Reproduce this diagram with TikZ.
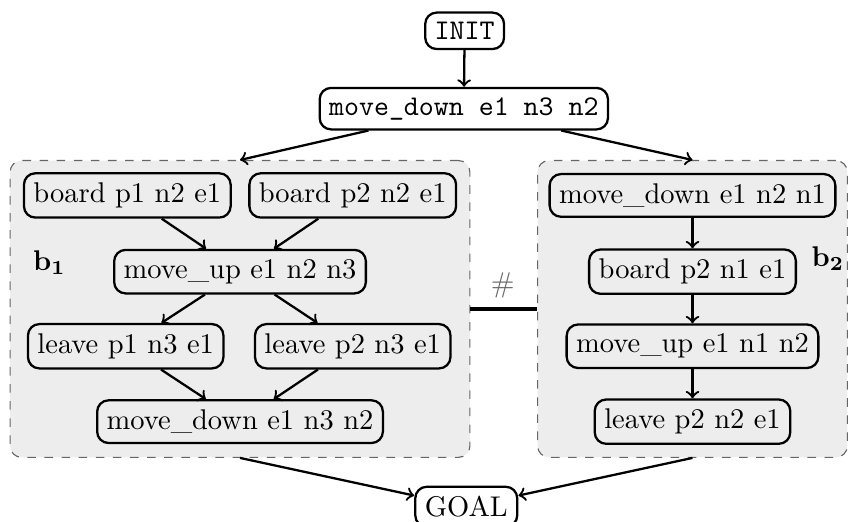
\documentclass[tikz,border=0pt]{standalone}
\definecolor{blockfill}{gray}{0.93}
\definecolor{blockline}{gray}{0.4}
\tikzstyle{action}=[draw, rectangle, rounded corners, thick]
\tikzstyle{block}=[draw=blockline, dashed, thin, rectangle, rounded corners, fill=blockfill]
\tikzstyle{flow}=[->, thick]

\begin{document}
\begin{tikzpicture}[auto, thick]
  \useasboundingbox (0,0) rectangle (10.47,6.43);

  \node[block, minimum width=5.67cm, minimum height=3.66cm] (B1) at (2.96,2.62) {};
  \node[block, minimum width=3.82cm, minimum height=3.66cm] (B2) at (8.54,2.62) {};

  \node[action] (I) at (5.73,6.05) {\ttfamily INIT};
  \node[action] (M0) at (5.72,5.09) {\ttfamily move\_down e1 n3 n2};
  \path[flow] (I) edge (M0);
  \path[flow] (M0) edge (B1.north);
  \path[flow] (M0) edge (B2.north);

  \node[action] (BP1) at (1.57,4.02) {board p1 n2 e1};
  \node[action] (BP2) at (4.35,4.02) {board p2 n2 e1};
  \node[action] (MU1) at (2.96,3.08) {move\_up e1 n2 n3};
  \node[action] (LP1) at (1.55,2.16) {leave p1 n3 e1};
  \node[action] (LP2) at (4.35,2.16) {leave p2 n3 e1};
  \node[action] (MD1) at (2.96,1.23) {move\_down e1 n3 n2};
  \path[flow] (BP1) edge (MU1);
  \path[flow] (BP2) edge (MU1);
  \path[flow] (MU1) edge (LP1);
  \path[flow] (MU1) edge (LP2);
  \path[flow] (LP1) edge (MD1);
  \path[flow] (LP2) edge (MD1);

  \node[action] (MD2) at (8.54,4.02) {move\_down e1 n2 n1};
  \node[action] (BP3) at (8.54,3.08) {board p2 n1 e1};
  \node[action] (MU2) at (8.54,2.16) {move\_up e1 n1 n2};
  \node[action] (LP3) at (8.54,1.23) {leave p2 n2 e1};
  \path[flow] (MD2) edge (BP3);
  \path[flow] (BP3) edge (MU2);
  \path[flow] (MU2) edge (LP3);

  \node[action] (G) at (5.75,0.18) {GOAL};
  \path[flow] (B1.south) edge (G);
  \path[flow] (B2.south) edge (G);

  \draw[very thick] (B1.east) -- (B2.west);
  \node[text=black!60] (H) at (6.20,2.91) {$\#$};

  \node (L1) at (0.61,3.19) {$\mathbf{b_1}$};
  \node (L2) at (10.21,3.24) {$\mathbf{b_2}$};
\end{tikzpicture}
\end{document}
